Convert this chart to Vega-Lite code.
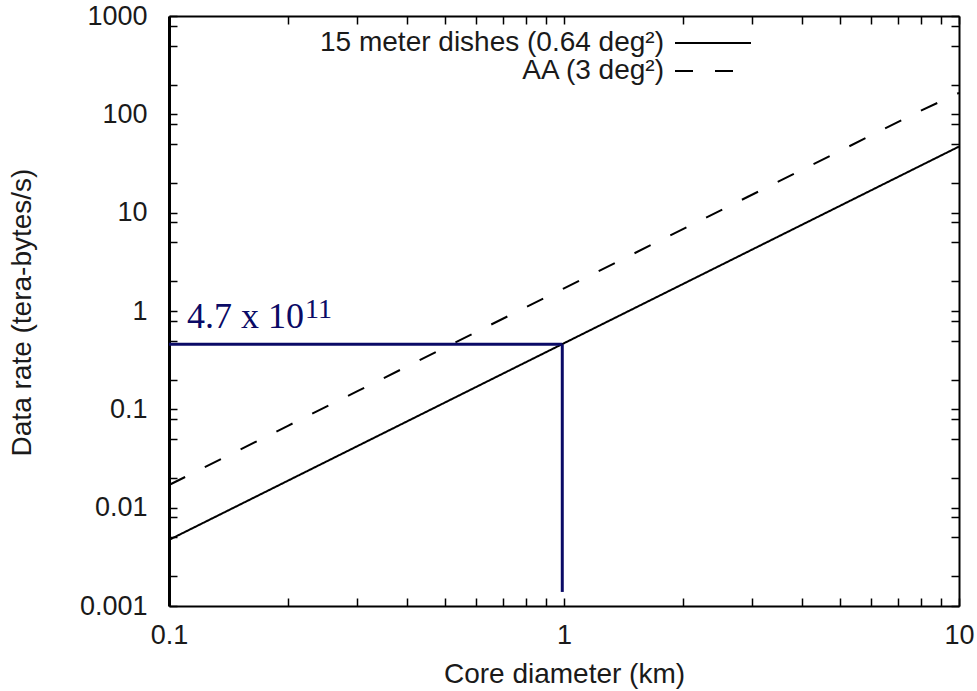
{
  "$schema": "https://vega.github.io/schema/vega-lite/v6.json",
  "width": 790,
  "height": 590,
  "autosize": "none",
  "padding": {"left": 169, "top": 16, "right": 18, "bottom": 85},
  "background": "white",
  "config": {"view": {"stroke": null}, "font": "Liberation Sans"},
  "datasets": {
    "curves": [
      {"diameter": 0.1, "rate": 0.0047, "series": "15 meter dishes (0.64 deg²)"},
      {"diameter": 0.2, "rate": 0.0188, "series": "15 meter dishes (0.64 deg²)"},
      {"diameter": 0.3, "rate": 0.0423, "series": "15 meter dishes (0.64 deg²)"},
      {"diameter": 0.5, "rate": 0.1175, "series": "15 meter dishes (0.64 deg²)"},
      {"diameter": 0.8, "rate": 0.301, "series": "15 meter dishes (0.64 deg²)"},
      {"diameter": 1, "rate": 0.47, "series": "15 meter dishes (0.64 deg²)"},
      {"diameter": 2, "rate": 1.88, "series": "15 meter dishes (0.64 deg²)"},
      {"diameter": 3, "rate": 4.23, "series": "15 meter dishes (0.64 deg²)"},
      {"diameter": 5, "rate": 11.75, "series": "15 meter dishes (0.64 deg²)"},
      {"diameter": 8, "rate": 30.1, "series": "15 meter dishes (0.64 deg²)"},
      {"diameter": 10, "rate": 47, "series": "15 meter dishes (0.64 deg²)"},
      {"diameter": 0.1, "rate": 0.017, "series": "AA (3 deg²)"},
      {"diameter": 0.2, "rate": 0.068, "series": "AA (3 deg²)"},
      {"diameter": 0.3, "rate": 0.153, "series": "AA (3 deg²)"},
      {"diameter": 0.5, "rate": 0.425, "series": "AA (3 deg²)"},
      {"diameter": 0.8, "rate": 1.09, "series": "AA (3 deg²)"},
      {"diameter": 1, "rate": 1.7, "series": "AA (3 deg²)"},
      {"diameter": 2, "rate": 6.8, "series": "AA (3 deg²)"},
      {"diameter": 3, "rate": 15.3, "series": "AA (3 deg²)"},
      {"diameter": 5, "rate": 42.5, "series": "AA (3 deg²)"},
      {"diameter": 8, "rate": 109, "series": "AA (3 deg²)"},
      {"diameter": 10, "rate": 165, "series": "AA (3 deg²)"}
    ],
    "guides": [
      {"x": 0.1, "x2": 0.99, "y": 0.458, "y2": 0.458},
      {"x": 0.99, "x2": 0.99, "y": 0.458, "y2": 0.00139}
    ],
    "notes": [
      {"x": 0.111, "y": 0.671, "text": "4.7 x 10", "size": 36},
      {"x": 0.221, "y": 0.855, "text": "11", "size": 28}
    ]
  },
  "layer": [
    {
      "data": {"name": "curves"},
      "mark": {"type": "line", "color": "black", "strokeWidth": 2},
      "encoding": {
        "x": {
          "field": "diameter", "type": "quantitative",
          "scale": {"type": "log", "domain": [0.1, 10]},
          "axis": {
            "orient": "bottom",
            "values": [0.1, 0.2, 0.3, 0.4, 0.5, 0.6, 0.7, 0.8, 0.9, 1, 2, 3, 4, 5, 6, 7, 8, 9, 10],
            "format": "~g",
            "labelExpr": "abs(log(datum.value)/LN10 - round(log(datum.value)/LN10)) < 0.001 ? datum.label : ''",
            "labelOverlap": false,
            "labelFlush": false,
            "labelFontSize": 27,
            "labelColor": "#1a1a1a",
            "labelPadding": 24,
            "tickSize": -8,
            "tickColor": "black",
            "tickWidth": 1.5,
            "domainColor": "black",
            "domainWidth": 2,
            "grid": false,
            "title": "Core diameter (km)",
            "titleFontSize": 28,
            "titleFontWeight": "normal",
            "titleColor": "#1a1a1a",
            "titleX": 395,
            "titleY": 68,
            "titleBaseline": "middle",
            "titleAlign": "center"
          }
        },
        "y": {
          "field": "rate", "type": "quantitative",
          "scale": {"type": "log", "domain": [0.001, 1000]},
          "axis": {
            "orient": "left",
            "values": [0.001, 0.002, 0.005, 0.008, 0.01, 0.02, 0.05, 0.08, 0.1, 0.2, 0.5, 0.8, 1, 2, 5, 8, 10, 20, 50, 80, 100, 200, 500, 800, 1000],
            "format": "~g",
            "labelExpr": "abs(log(datum.value)/LN10 - round(log(datum.value)/LN10)) < 0.001 ? datum.label : ''",
            "labelOverlap": false,
            "labelFlush": false,
            "labelFontSize": 27,
            "labelColor": "#1a1a1a",
            "labelPadding": 30,
            "tickSize": -8,
            "tickColor": "black",
            "tickWidth": 1.5,
            "domainColor": "black",
            "domainWidth": 3,
            "grid": false,
            "title": "Data rate (tera-bytes/s)",
            "titleFontSize": 28,
            "titleFontWeight": "normal",
            "titleColor": "#1a1a1a",
            "titleAngle": -90,
            "titleX": -147,
            "titleY": 296,
            "titleBaseline": "middle",
            "titleAlign": "center"
          }
        },
        "strokeDash": {
          "field": "series", "type": "nominal",
          "scale": {"domain": ["15 meter dishes (0.64 deg²)", "AA (3 deg²)"], "range": [[1, 0], [18, 22]]},
          "legend": {
            "orient": "none",
            "legendX": 530,
            "legendY": 13,
            "title": null,
            "direction": "vertical",
            "symbolType": "M-5,0H5",
            "symbolSize": 231,
            "symbolStrokeWidth": 2,
            "symbolStrokeColor": "black",
            "labelFontSize": 28,
            "labelColor": "#1a1a1a",
            "labelAlign": "right",
            "labelOffset": -63,
            "labelLimit": 600,
            "rowPadding": -4,
            "padding": 0
          }
        }
      }
    },
    {
      "data": {"name": "guides"},
      "mark": {"type": "rule", "color": "#0a0a66", "strokeWidth": 3},
      "encoding": {
        "x": {
          "field": "x", "type": "quantitative",
          "axis": {
            "orient": "top",
            "values": [0.1, 0.2, 0.3, 0.4, 0.5, 0.6, 0.7, 0.8, 0.9, 1, 2, 3, 4, 5, 6, 7, 8, 9, 10],
            "labels": false,
            "tickSize": -8,
            "tickColor": "black",
            "tickWidth": 1.5,
            "domainColor": "black",
            "domainWidth": 2,
            "grid": false,
            "title": null
          }
        },
        "x2": {"field": "x2"},
        "y": {
          "field": "y", "type": "quantitative",
          "axis": {
            "orient": "right",
            "values": [0.001, 0.002, 0.005, 0.008, 0.01, 0.02, 0.05, 0.08, 0.1, 0.2, 0.5, 0.8, 1, 2, 5, 8, 10, 20, 50, 80, 100, 200, 500, 800, 1000],
            "labels": false,
            "tickSize": -8,
            "tickColor": "black",
            "tickWidth": 1.5,
            "domainColor": "black",
            "domainWidth": 2,
            "grid": false,
            "title": null
          }
        },
        "y2": {"field": "y2"}
      }
    },
    {
      "data": {"name": "notes"},
      "mark": {"type": "text", "color": "#0a0a66", "font": "Liberation Serif", "align": "left", "baseline": "alphabetic"},
      "encoding": {
        "x": {"field": "x", "type": "quantitative", "axis": null},
        "y": {"field": "y", "type": "quantitative", "axis": null},
        "text": {"field": "text"},
        "size": {"field": "size", "type": "quantitative", "scale": null}
      }
    }
  ],
  "resolve": {"axis": {"x": "independent", "y": "independent"}}
}
